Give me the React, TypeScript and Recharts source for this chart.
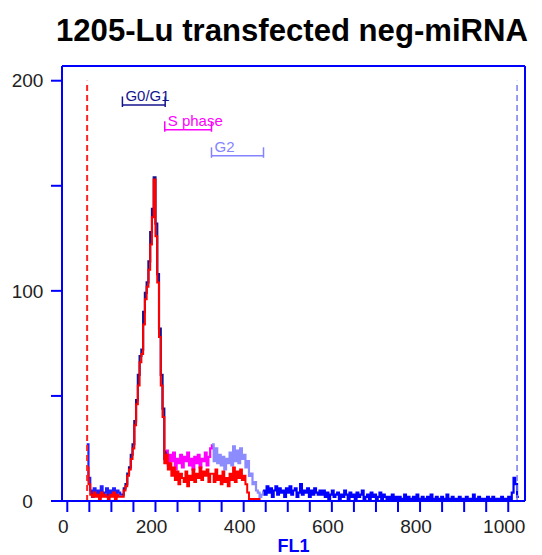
import React from 'react';
import { LineChart, Line, XAxis, YAxis, ReferenceLine } from 'recharts';

// Histogram bins: channel start = BIN_START + i * BIN_WIDTH
const BIN_START = 44;
const BIN_WIDTH = 4;

// total histogram, split by gate region (channels 44..1020)
const belowG1Counts = [27, 11, 5, 2, 6, 3, 5, 2, 7, 3, 4, 6, 2, 5, 3, 6, 2, 5, 4, 3];
const g0g1Counts = [3, 6, 8, 13, 16, 22, 27, 38, 48, 60, 69, 72, 90, 99, 104, 114, 128, 139, 154, 132, 108, 82, 60, 44, 20];
const sPhaseCounts = [24, 17, 22, 19, 23, 15, 20, 18, 22, 16, 21, 19, 23, 17, 20, 15, 21, 18, 22, 16, 20, 19, 23, 17, 21, 25];
const g2Counts = [27, 19, 25, 18, 22, 17, 21, 15, 20, 18, 23, 17, 26, 19, 24, 18, 25, 20, 22, 16, 19, 12, 13, 8, 9, 5, 4, 2, 3];
const aboveG2Counts = [
  5, 3, 7, 4, 6, 2, 5, 7, 3, 6, 4, 5, 2, 6, 4, 7, 3, 5, 6, 2, 4, 8, 3, 5, 4, 6, 2, 5, 3, 6, 4, 3, 5,
  3, 5, 2, 4, 1, 3, 5, 2, 3, 4, 1, 3, 2, 5, 3, 1, 4, 2, 3, 1, 4, 2, 3, 5, 1, 2, 3, 1, 4, 2, 3, 1, 2, 4, 1, 3, 2, 1,
  2, 1, 3, 0, 2, 1, 2, 0, 1, 3, 1, 2, 0, 1, 2, 1, 3, 0, 1, 2, 1, 0, 2, 1, 3, 1, 0, 2, 1, 1,
  2, 0, 1, 3, 1, 0, 2, 1, 1, 0, 2, 1, 0, 1, 2, 1, 0, 1, 3, 1, 0, 2, 1, 0, 1, 1, 2, 0, 1, 2,
  0, 1, 1, 0, 2, 1, 0, 1, 2, 1,
  4, 11, 8, 2,
];

// overlay histogram (red), channels 44..440
const overlayCounts = [
  16, 8, 3, 2, 4, 2, 3, 1, 4, 2, 3, 2, 1, 3, 2, 4, 1, 3, 2, 2,
  2, 5, 7, 12, 15, 20, 25, 36, 46, 55, 66, 70, 84, 96, 102, 110, 122, 135, 153, 126, 104, 78, 55, 40, 18,
  22, 15, 18, 12, 16, 10, 14, 8, 13, 11, 9, 14, 7, 12, 10, 15, 9, 13, 11, 16, 10, 14, 12, 15, 9, 13,
  13, 9, 15, 10, 12, 8, 14, 9, 11, 7, 13, 10, 16, 9, 14, 11, 15, 10, 12, 8, 4, 1, 1, 0, 1, 0, 1, 0, 0,
];

const xTicks = [0, 50, 100, 150, 200, 250, 300, 350, 400, 450, 500, 550, 600, 650, 700, 750, 800, 850, 900, 950, 1000];
const xTickLabels = [0, 200, 400, 600, 800, 1000];
const yTicks = [0, 50, 100, 150, 200];
const yTickLabels = [0, 100, 200];

const gateNames = ['G0/G1', 'S phase', 'G2'];
const gateStarts = [125, 221, 327];
const gateEnds = [222, 327, 445];

const leftMarker = 45;
const rightMarker = 1020;

const TITLE = '1205-Lu transfected neg-miRNA';
const X_LABEL = 'FL1';

// ---- build table ----
const regionArrays = [belowG1Counts, g0g1Counts, sPhaseCounts, g2Counts, aboveG2Counts];
const regionKeys = ['pre', 'g1', 's', 'g2', 'post'];
const rows: any[] = [];
let idx = 0;
regionArrays.forEach((arr, r) => {
  arr.forEach((v, j) => {
    const row: any = { ch: BIN_START + idx * BIN_WIDTH };
    row[regionKeys[r]] = v;
    if (j === 0 && r > 0) row[regionKeys[r - 1]] = v;
    if (idx < overlayCounts.length) row.red = overlayCounts[idx];
    if (idx === overlayCounts.length) row.red = overlayCounts[overlayCounts.length - 1];
    rows.push(row);
    idx++;
  });
});
rows.push({ ch: BIN_START + idx * BIN_WIDTH, post: aboveG2Counts[aboveG2Counts.length - 1] });

const FONT = 'Liberation Sans, Arial, Helvetica, sans-serif';
const AXIS_BLUE = '#0000ff';
const gateLevels = [188.5, 176.7, 164.3];
const gateColors = ['#14148f', '#ff00ff', '#8484ff'];
const segColors: Record<string, string> = {
  pre: '#1e1eff',
  g1: '#14148f',
  s: '#ff00ff',
  g2: '#8c8cff',
  post: '#0000ff',
};

const XTick = (props: any) => {
  const { x, y, payload } = props;
  if (!xTickLabels.includes(payload.value)) return null;
  return (
    <text x={x - 4} y={y} dy="0.71em" textAnchor="middle" fontSize={19} fontFamily={FONT} fill="#222">
      {payload.value}
    </text>
  );
};

const YTick = (props: any) => {
  const { x, y, payload } = props;
  if (!yTickLabels.includes(payload.value)) return null;
  return (
    <text x={x - 21.5} y={y} dy="0.355em" textAnchor="middle" fontSize={19} fontFamily={FONT} fill="#222">
      {payload.value}
    </text>
  );
};

const gateLabel = (text: string, color: string) => (props: any) => {
  const vb = props.viewBox || {};
  return (
    <text x={(vb.x ?? 0) + 3} y={(vb.y ?? 0) - 4} fill={color} fontSize={15} fontFamily={FONT}>
      {text}
    </text>
  );
};

export default function App() {
  return (
    <div style={{ position: 'absolute', left: 0, top: 0, width: 542, height: 555, background: '#fff' }}>
      <LineChart
        width={542}
        height={555}
        data={rows}
        margin={{ top: 66, right: 17, bottom: 0, left: 0 }}
        style={{ position: 'absolute', left: 0, top: 0 }}
      >
        <XAxis
          type="number"
          dataKey="ch"
          domain={[-12, 1038]}
          allowDataOverflow
          ticks={xTicks}
          interval={0}
          tickSize={11}
          tickMargin={8}
          height={54}
          axisLine={{ stroke: AXIS_BLUE, strokeWidth: 2 }}
          tickLine={{ stroke: AXIS_BLUE, strokeWidth: 2 }}
          tick={<XTick />}
          label={{ value: X_LABEL, position: 'insideBottom', offset: 3, fill: AXIS_BLUE, fontWeight: 'bold', fontSize: 18, fontFamily: FONT }}
        />
        <YAxis
          type="number"
          domain={[0, 207]}
          allowDataOverflow
          ticks={yTicks}
          interval={0}
          width={62}
          tickSize={11}
          axisLine={{ stroke: AXIS_BLUE, strokeWidth: 2 }}
          tickLine={{ stroke: AXIS_BLUE, strokeWidth: 2 }}
          tick={<YTick />}
        />
        {regionKeys.map((k) => (
          <Line
            key={k}
            dataKey={k}
            type="stepAfter"
            stroke={segColors[k]}
            strokeWidth={2.2}
            dot={false}
            activeDot={false}
            connectNulls={false}
            isAnimationActive={false}
          />
        ))}
        <Line
          dataKey="red"
          type="stepAfter"
          stroke="#ff0000"
          strokeWidth={2}
          dot={false}
          activeDot={false}
          connectNulls={false}
          isAnimationActive={false}
        />
        <ReferenceLine y={207} stroke={AXIS_BLUE} strokeWidth={2} />
        <ReferenceLine x={1038} stroke={AXIS_BLUE} strokeWidth={2} />
        <ReferenceLine
          segment={[{ x: leftMarker, y: 0 }, { x: leftMarker, y: 200 }]}
          stroke="#ff2020"
          strokeWidth={2}
          strokeDasharray="6 4"
        />
        <ReferenceLine
          segment={[{ x: rightMarker, y: 0 }, { x: rightMarker, y: 200 }]}
          stroke="#7a7af0"
          strokeWidth={1.5}
          strokeDasharray="6 4"
        />
        {gateNames.map((name, i) => (
          <ReferenceLine
            key={'bar' + i}
            segment={[{ x: gateStarts[i], y: gateLevels[i] }, { x: gateEnds[i], y: gateLevels[i] }]}
            stroke={gateColors[i]}
            strokeWidth={1.5}
            label={{ content: gateLabel(name, gateColors[i]) }}
          />
        ))}
        {gateNames.map((name, i) => (
          <ReferenceLine
            key={'l' + i}
            segment={[{ x: gateStarts[i], y: gateLevels[i] - 1 }, { x: gateStarts[i], y: gateLevels[i] + 4 }]}
            stroke={gateColors[i]}
            strokeWidth={1.5}
          />
        ))}
        {gateNames.map((name, i) => (
          <ReferenceLine
            key={'r' + i}
            segment={[{ x: gateEnds[i], y: gateLevels[i] - 1 }, { x: gateEnds[i], y: gateLevels[i] + 4 }]}
            stroke={gateColors[i]}
            strokeWidth={1.5}
          />
        ))}
      </LineChart>
      <svg width={542} height={62} style={{ position: 'absolute', left: 0, top: 0 }}>
        <text
          x={292}
          y={41}
          textAnchor="middle"
          fontFamily={FONT}
          fontWeight="bold"
          fontSize={31}
          textLength={472}
          lengthAdjust="spacingAndGlyphs"
          fill="#000"
        >
          {TITLE}
        </text>
      </svg>
    </div>
  );
}
